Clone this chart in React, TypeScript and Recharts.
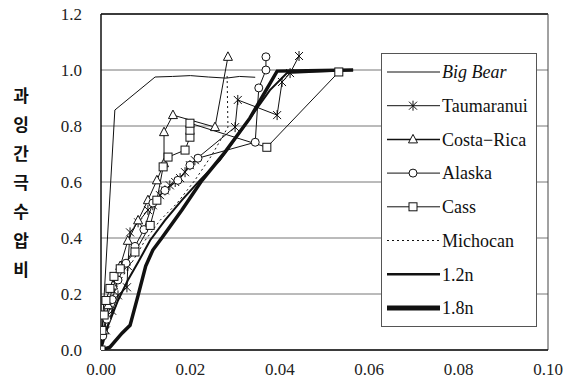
import React from 'react';
import { LineChart, Line, XAxis, YAxis, CartesianGrid, Legend, ReferenceLine } from 'recharts';

// axis ticks and title
const xTicks = [0, 0.02, 0.04, 0.06, 0.08, 0.1];
const yTicks = [0, 0.2, 0.4, 0.6, 0.8, 1.0, 1.2];
const yTitle = ['과', '잉', '간', '극', '수', '압', '비'];

// [strain, pore pressure ratio]
const bigBear = [[0, 0], [0.0031, 0.857], [0.0121, 0.975], [0.016, 0.977], [0.02, 0.98], [0.024, 0.975], [0.028, 0.971], [0.031, 0.977], [0.0345, 0.974]];
const taumaranui = [[0, 0], [0.0011, 0.07], [0.0025, 0.14], [0.0038, 0.195], [0.0058, 0.224], [0.006, 0.3], [0.0065, 0.42], [0.0083, 0.456], [0.0105, 0.5], [0.0116, 0.517], [0.0132, 0.553], [0.0143, 0.57], [0.0154, 0.588], [0.0166, 0.6], [0.0177, 0.614], [0.0188, 0.635], [0.0199, 0.66], [0.021, 0.678], [0.03, 0.796], [0.0306, 0.893], [0.0394, 0.839], [0.0405, 0.957], [0.0423, 0.989], [0.0443, 1.05]];
const costaRica = [[0, 0], [0.0007, 0.07], [0.0016, 0.16], [0.0027, 0.23], [0.0043, 0.3], [0.006, 0.39], [0.0083, 0.463], [0.0105, 0.535], [0.0125, 0.606], [0.0141, 0.667], [0.0141, 0.778], [0.0161, 0.839], [0.0255, 0.796], [0.0284, 1.047]];
const alaska = [[0, 0], [0.0004, 0.05], [0.0013, 0.11], [0.0025, 0.18], [0.0038, 0.25], [0.0056, 0.31], [0.0076, 0.37], [0.0096, 0.43], [0.0116, 0.525], [0.0143, 0.57], [0.0172, 0.606], [0.0199, 0.66], [0.0217, 0.685], [0.0345, 0.742], [0.0353, 0.936], [0.0369, 1.0], [0.0369, 1.047]];
const cass = [[0, 0], [0.0002, 0.07], [0.0007, 0.125], [0.0011, 0.177], [0.002, 0.22], [0.0029, 0.263], [0.0043, 0.29], [0.0076, 0.35], [0.011, 0.445], [0.0125, 0.535], [0.0139, 0.654], [0.015, 0.689], [0.0188, 0.714], [0.0199, 0.76], [0.0199, 0.785], [0.0199, 0.81], [0.0371, 0.724], [0.0532, 0.993]];
const michocan = [[0, 0], [0.0007, 0.088], [0.002, 0.177], [0.0043, 0.249], [0.0072, 0.32], [0.0098, 0.39], [0.0132, 0.463], [0.017, 0.524], [0.021, 0.606], [0.0248, 0.696], [0.0284, 0.796], [0.0282, 0.989]];
const n12 = [[0, 0], [0.0016, 0.088], [0.0038, 0.177], [0.006, 0.249], [0.0083, 0.313], [0.011, 0.392], [0.0143, 0.463], [0.0181, 0.535], [0.0221, 0.606], [0.0266, 0.678], [0.0322, 0.803], [0.0378, 0.928], [0.0416, 0.989], [0.0564, 1.0]];
const n18 = [[0, 0], [0.002, 0.01], [0.0047, 0.06], [0.0065, 0.088], [0.0083, 0.195], [0.01, 0.3], [0.0116, 0.357], [0.0136, 0.4], [0.0181, 0.5], [0.0226, 0.606], [0.0277, 0.706], [0.0333, 0.828], [0.0394, 0.996], [0.0564, 1.0]];

const toRows = (pts: number[][]) => pts.map(([x, y]) => ({ x, y }));

type Kind = 'none' | 'star' | 'triangle' | 'circle' | 'square';

const series: { name: string; data: number[][]; width: number; legendWidth: number; dash?: string; kind: Kind; italic?: boolean }[] = [
  { name: 'Big Bear', data: bigBear, width: 1, legendWidth: 1, kind: 'none', italic: true },
  { name: 'Taumaranui', data: taumaranui, width: 1, legendWidth: 1, kind: 'star' },
  { name: 'Costa−Rica', data: costaRica, width: 1, legendWidth: 1.5, kind: 'triangle' },
  { name: 'Alaska', data: alaska, width: 1, legendWidth: 1, kind: 'circle' },
  { name: 'Cass', data: cass, width: 1, legendWidth: 1, kind: 'square' },
  { name: 'Michocan', data: michocan, width: 1, legendWidth: 1, dash: '2 3', kind: 'none' },
  { name: '1.2n', data: n12, width: 2, legendWidth: 2.5, kind: 'none' },
  { name: '1.8n', data: n18, width: 3.5, legendWidth: 5, kind: 'none' },
];

const INK = '#111';
const SERIF = 'Liberation Serif, Tinos, Times New Roman, DejaVu Serif, Noto Serif, serif';

function Marker({ kind, cx, cy }: { kind: Kind; cx?: number; cy?: number }) {
  if (cx == null || cy == null || kind === 'none') return null;
  const s = 4;
  if (kind === 'star') {
    return (
      <g stroke={INK} strokeWidth={1}>
        <line x1={cx - s} y1={cy - s} x2={cx + s} y2={cy + s} />
        <line x1={cx - s} y1={cy + s} x2={cx + s} y2={cy - s} />
        <line x1={cx} y1={cy - s - 1} x2={cx} y2={cy + s + 1} />
      </g>
    );
  }
  if (kind === 'triangle') {
    return <polygon points={`${cx},${cy - 5} ${cx - 4.5},${cy + 3.5} ${cx + 4.5},${cy + 3.5}`} fill="#fff" stroke={INK} strokeWidth={1} />;
  }
  if (kind === 'circle') {
    return <circle cx={cx} cy={cy} r={4} fill="#fff" stroke={INK} strokeWidth={1} />;
  }
  return <rect x={cx - 4} y={cy - 4} width={8} height={8} fill="#fff" stroke={INK} strokeWidth={1} />;
}

function LegendBox() {
  return (
    <svg width={156} height={274} style={{ display: 'block' }}>
      <rect x={0.5} y={0.5} width={155} height={273} fill="#fff" stroke="#555" strokeWidth={1} />
      {series.map((s, i) => {
        const y = 19 + i * 33.7;
        return (
          <g key={s.name}>
            <line x1={6} x2={59} y1={y} y2={y} stroke={INK} strokeWidth={s.legendWidth} strokeDasharray={s.dash} />
            <Marker kind={s.kind} cx={32} cy={y} />
            <text x={61} y={y} dy="0.35em" fill={INK} fontSize={18} style={{ fontFamily: SERIF, fontStyle: s.italic ? 'italic' : 'normal' }}>
              {s.name}
            </text>
          </g>
        );
      })}
    </svg>
  );
}

function YTitle() {
  return (
    <text fill={INK} fontSize={17} fontWeight={700} textAnchor="middle" style={{ fontFamily: 'Noto Sans CJK KR, sans-serif' }}>
      {yTitle.map((ch, i) => (
        <tspan key={i} x={21} y={102 + i * 29}>{ch}</tspan>
      ))}
    </text>
  );
}

const tickStyle = { fill: '#222', fontSize: 17, style: { fontFamily: SERIF } };

export default function App() {
  return (
    <div style={{ position: 'absolute', left: 0, top: 0, background: '#fff', fontFamily: SERIF }}>
      <LineChart width={572} height={381} margin={{ top: 14, right: 24, bottom: 0, left: 0 }} style={{ fontFamily: SERIF }}>
        <CartesianGrid vertical={false} stroke="#777" />
        <XAxis
          dataKey="x"
          type="number"
          domain={[0, 0.1]}
          ticks={xTicks}
          tickFormatter={(v: number) => v.toFixed(2)}
          height={31}
          axisLine={{ stroke: INK, strokeWidth: 1.5 }}
          tickLine={false}
          tickSize={0}
          tickMargin={13}
          tick={tickStyle}
          interval={0}
          allowDataOverflow
        />
        <YAxis
          type="number"
          domain={[0, 1.2]}
          ticks={yTicks}
          tickFormatter={(v: number) => v.toFixed(1)}
          width={101}
          axisLine={{ stroke: INK, strokeWidth: 1.5 }}
          tickLine={false}
          tickSize={0}
          tickMargin={19}
          tick={tickStyle}
          interval={0}
          label={<YTitle />}
          allowDataOverflow
        />
        <ReferenceLine y={1.2} stroke={INK} strokeWidth={1.5} />
        <ReferenceLine x={0.1} stroke="#444" strokeWidth={1} />
        {series.map((s) => (
          <Line
            key={s.name}
            data={toRows(s.data)}
            dataKey="y"
            name={s.name}
            type="linear"
            stroke={INK}
            strokeWidth={s.width}
            strokeDasharray={s.dash}
            dot={s.kind === 'none' ? false : (p: any) => <Marker key={`${s.name}-${p.index}`} kind={s.kind} cx={p.cx} cy={p.cy} />}
            activeDot={false}
            isAnimationActive={false}
            legendType="line"
          />
        ))}
        <Legend
          layout="vertical"
          align="center"
          verticalAlign="middle"
          content={() => <LegendBox />}
          wrapperStyle={{ left: 381, top: 53, width: 156, height: 274 }}
        />
      </LineChart>
    </div>
  );
}
